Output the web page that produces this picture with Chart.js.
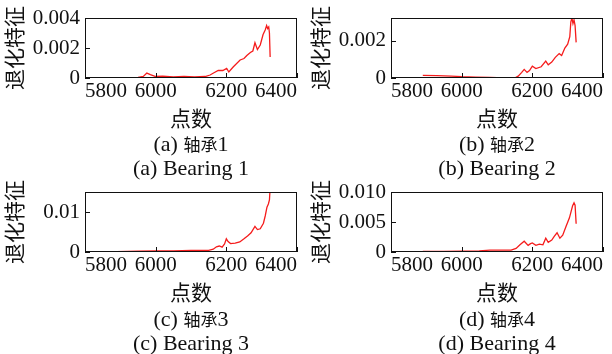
<!DOCTYPE html>
<html>
<head>
<meta charset="utf-8">
<script src="https://cdn.jsdelivr.net/npm/chart.js@4.4.1/dist/chart.umd.min.js"></script>
<style>
  html, body { margin:0; padding:0; background:#fff; }
  #wrap { position:relative; width:612px; height:354px; overflow:hidden; }
  .box { position:absolute; width:306px; height:135px; }
  .cap { position:absolute; width:306px; height:24px; line-height:24px; text-align:center;
         font-family:'Liberation Serif','Noto Sans CJK SC',serif; font-size:22px; color:#111; }
  .cap span { font-family:'Noto Sans CJK SC',sans-serif; font-size:17px; }
</style>
</head>
<body>
<div id="wrap">
  <div class="box" style="left:0;top:0"><canvas id="c1" width="306" height="135"></canvas></div>
  <div class="box" style="left:306px;top:0"><canvas id="c2" width="306" height="135"></canvas></div>
  <div class="box" style="left:0;top:174px"><canvas id="c3" width="306" height="135"></canvas></div>
  <div class="box" style="left:306px;top:174px"><canvas id="c4" width="306" height="135"></canvas></div>
</div>
<script>
// x ticks shared by all panels
const xTicks = [5800, 6000, 6200, 6400];

// Bearing 1
const x1 = [5890, 5950, 5965, 5975, 5985, 6000, 6020, 6050, 6080, 6110, 6140, 6154, 6165, 6177, 6190, 6201, 6207, 6220, 6239, 6250, 6258, 6268, 6275, 6281, 6288, 6296, 6304, 6310, 6314, 6317, 6320, 6322, 6324];
const y1 = [0.00002, 0.00004, 0.0001, 0.00033, 0.00022, 0.0001, 0.00012, 0.00008, 0.0001, 0.00008, 0.0001, 0.0002, 0.00035, 0.0005, 0.0005, 0.00064, 0.0004, 0.00075, 0.0012, 0.0013, 0.0015, 0.0017, 0.0018, 0.00235, 0.0019, 0.0022, 0.0029, 0.0032, 0.0035, 0.0033, 0.0034, 0.0030, 0.0014];
const yTicks1 = [0, 0.002, 0.004];

// Bearing 2
const x2 = [5890, 5930, 5970, 6000, 6040, 6080, 6120, 6150, 6160, 6170, 6177, 6185, 6192, 6200, 6210, 6225, 6238, 6245, 6255, 6265, 6276, 6283, 6292, 6300, 6306, 6309, 6312, 6315, 6318, 6321, 6324];
const y2 = [0.00014, 0.00013, 0.0001, 0.00007, 0.00005, 0.00003, 0.00001, 0.0, 0.0001, 0.0003, 0.00046, 0.0003, 0.0004, 0.00063, 0.0005, 0.0006, 0.0009, 0.0007, 0.00085, 0.0011, 0.0013, 0.0012, 0.0016, 0.0018, 0.0022, 0.003, 0.0032, 0.0029, 0.0031, 0.0028, 0.0019];
const yTicks2 = [0, 0.002];

// Bearing 3
const x3 = [5890, 5950, 6000, 6050, 6100, 6150, 6163, 6172, 6180, 6188, 6195, 6200, 6205, 6212, 6225, 6238, 6250, 6260, 6270, 6281, 6288, 6296, 6305, 6310, 6315, 6319, 6322, 6324];
const y3 = [0.0001, 0.0002, 0.0003, 0.0003, 0.0004, 0.0004, 0.0007, 0.0013, 0.0015, 0.0012, 0.002, 0.0033, 0.0026, 0.0021, 0.0022, 0.0025, 0.0033, 0.004, 0.0048, 0.0064, 0.0056, 0.0058, 0.0072, 0.009, 0.0112, 0.012, 0.013, 0.016];
const yTicks3 = [0, 0.01];

// Bearing 4
const x4 = [5890, 5950, 6000, 6050, 6080, 6110, 6140, 6154, 6165, 6177, 6188, 6195, 6200, 6210, 6220, 6230, 6238, 6245, 6255, 6262, 6270, 6278, 6286, 6295, 6305, 6310, 6314, 6318, 6321, 6324];
const y4 = [0.0001, 0.0001, 0.00015, 0.0002, 0.0003, 0.0003, 0.0003, 0.0006, 0.0012, 0.0018, 0.0011, 0.0014, 0.0015, 0.0011, 0.0013, 0.0012, 0.0023, 0.0016, 0.002, 0.0026, 0.0032, 0.0023, 0.0028, 0.0042, 0.0057, 0.0068, 0.0077, 0.0082, 0.0078, 0.0047];
const yTicks4 = [0, 0.005, 0.010];

const serif = "'Liberation Serif','Noto Sans CJK SC',serif";
const red = '#f51c1c';

// box around the plot and inward tick marks
const boxTicks = {
  id:'boxTicks',
  afterDraw(chart){
    const {ctx, chartArea:a, scales:{x, y}} = chart;
    ctx.save();
    ctx.strokeStyle = '#111'; ctx.lineWidth = 1;
    ctx.strokeRect(Math.round(a.left)+0.5, Math.round(a.top)+0.5, Math.round(a.width)-1, Math.round(a.height)-1);
    ctx.beginPath();
    x.ticks.forEach((t,i)=>{ const px = Math.round(x.getPixelForTick(i))+0.5; ctx.moveTo(px, a.bottom); ctx.lineTo(px, a.bottom-5); });
    y.ticks.forEach((t,i)=>{ const py = Math.round(y.getPixelForTick(i))+0.5; ctx.moveTo(a.left, py); ctx.lineTo(a.left+5, py); });
    ctx.stroke();
    ctx.restore();
  }
};

function makeChart(id, xs, ys, yTicks, yMax, digits){
  const pts = xs.map((v,i)=>({x:v, y:ys[i]}));
  return new Chart(document.getElementById(id), {
    type:'line',
    data:{datasets:[{data:pts, borderColor:red, borderWidth:1.3, pointRadius:0, tension:0, fill:false}]},
    options:{
      responsive:false, animation:false,
      layout:{padding:{top:18, right:9, left:0, bottom:0}},
      plugins:{legend:{display:false}, tooltip:{enabled:false}},
      scales:{
        x:{type:'linear', min:5800, max:6400,
          afterBuildTicks:s=>{ s.ticks = xTicks.map(v=>({value:v})); },
          afterFit:s=>{ s.height = 57; },
          grid:{display:false, drawTicks:false}, border:{display:false},
          ticks:{align:'inner', padding:1, color:'#111', maxRotation:0, font:{family:serif, size:21},
            callback:v=>String(v)},
          title:{display:true, text:'点数', color:'#111', padding:{top:0,bottom:2}, font:{family:serif, size:21}}
        },
        y:{min:0, max:yMax,
          afterBuildTicks:s=>{ s.ticks = yTicks.map(v=>({value:v})); },
          afterFit:s=>{ s.width = 85; },
          grid:{display:false, drawTicks:false}, border:{display:false},
          ticks:{padding:5, color:'#111', font:{family:serif, size:21},
            callback:v=> v === 0 ? '0' : v.toFixed(digits)},
          title:{display:true, text:'退化特征', color:'#111', padding:{top:4,bottom:0}, font:{family:serif, size:21}}
        }
      }
    },
    plugins:[boxTicks]
  });
}

makeChart('c1', x1, y1, yTicks1, 0.004, 3);
makeChart('c2', x2, y2, yTicks2, 0.0032, 3);
makeChart('c3', x3, y3, yTicks3, 0.015, 2);
makeChart('c4', x4, y4, yTicks4, 0.010, 3);

// captions under each panel
const captions = [
  ['(a) ', '轴承', '1', '(a) Bearing 1', 0, 0],
  ['(b) ', '轴承', '2', '(b) Bearing 2', 306, 0],
  ['(c) ', '轴承', '3', '(c) Bearing 3', 0, 175],
  ['(d) ', '轴承', '4', '(d) Bearing 4', 306, 175]
];
const wrap = document.getElementById('wrap');
captions.forEach(([pre, zh, num, en, left, top])=>{
  const d1 = document.createElement('div');
  d1.className = 'cap';
  d1.append(pre);
  const s = document.createElement('span');
  s.textContent = zh;
  d1.append(s, num);
  d1.style.left = (left + 38) + 'px';
  d1.style.top = (top + 132) + 'px';
  wrap.appendChild(d1);

  const d2 = document.createElement('div');
  d2.className = 'cap';
  d2.textContent = en;
  d2.style.left = (left + 38) + 'px';
  d2.style.top = (top + 156) + 'px';
  wrap.appendChild(d2);
});
</script>
</body>
</html>
